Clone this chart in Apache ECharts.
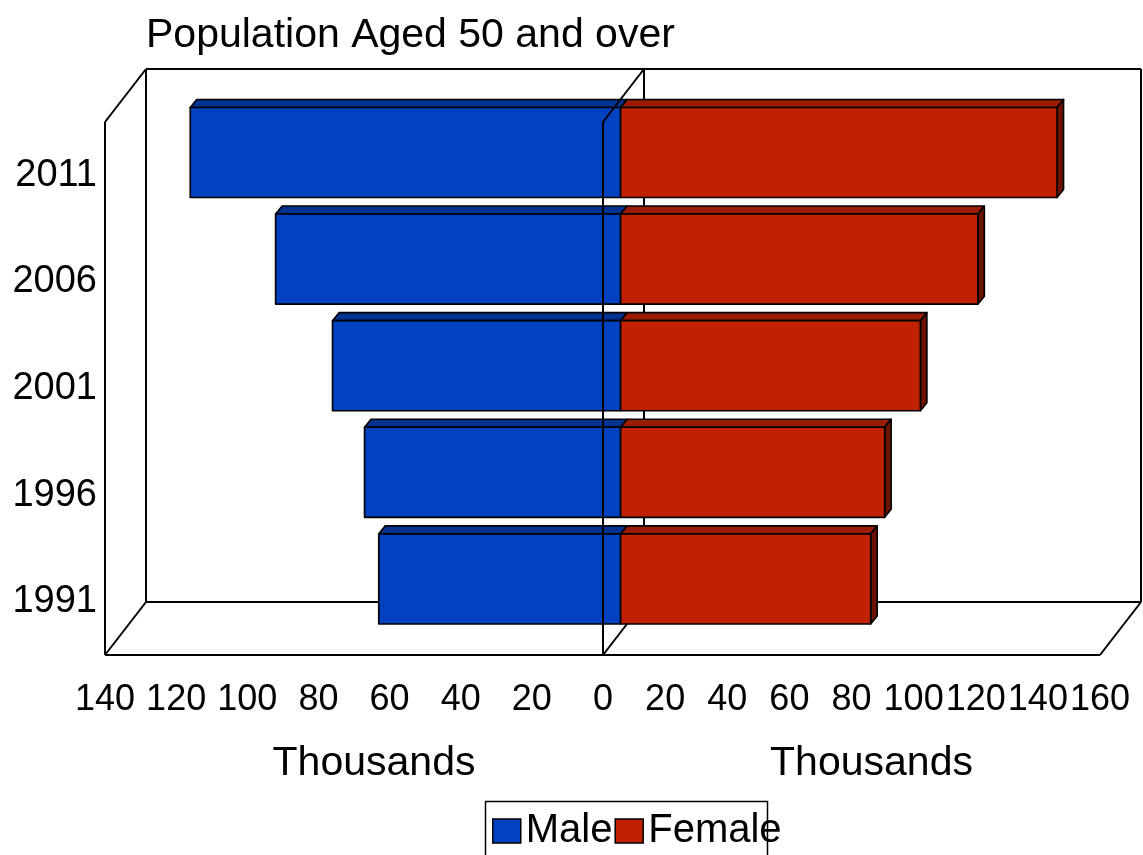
<!DOCTYPE html>
<html>
<head>
<meta charset="utf-8">
<script src="https://cdn.jsdelivr.net/npm/echarts@6/dist/echarts.min.js"></script>
<style>
  html, body { margin: 0; padding: 0; background: #fff; }
  #chart { width: 1143px; height: 855px; }
</style>
</head>
<body>
<div id="chart"></div>
<script>
// Census years, bottom to top
const categories = ['1991', '1996', '2001', '2006', '2011'];
// Population aged 50 and over, thousands
const maleValues = [68, 72, 81, 97, 121];
const femaleValues = [80.5, 85, 96.5, 115, 140.5];
// Axis ranges (thousands)
const maleAxisMax = 140;
const femaleAxisMax = 160;
const tickStep = 20;

const FONT = "'Liberation Sans', Arial, sans-serif";

// Oblique projection of the 3D box: offset from front plane to back plane
const DX = 41, DY = -53;
// Bars sit part-way into the box, with a small thickness of their own
const BAR_DEPTH = 0.43;
const BAR_TX = 6.5, BAR_TY = -8;
const BAR_FILL = 0.845;

const COLORS = {
  male:   { front: '#0041C0', top: '#003391', side: '#002a78' },
  female: { front: '#C02100', top: '#9A1B00', side: '#6E1200' }
};

function barRenderer(kind) {
  const c = COLORS[kind];
  return function (params, api) {
    const val = api.value(0);
    const cat = api.value(1);
    const pz = api.coord([0, cat]);
    const pv = api.coord([val, cat]);
    const h = api.size([0, 1])[1] * BAR_FILL;
    const ox = DX * BAR_DEPTH, oy = DY * BAR_DEPTH;
    const xl = Math.min(pz[0], pv[0]) + ox;
    const xr = Math.max(pz[0], pv[0]) + ox;
    const yt = pz[1] + oy - h / 2;
    const yb = yt + h;
    const stroke = { stroke: '#000', lineWidth: 1.6, lineJoin: 'round' };
    const children = [
      {
        type: 'polygon',
        shape: { points: [[xl, yt], [xr, yt], [xr + BAR_TX, yt + BAR_TY], [xl + BAR_TX, yt + BAR_TY]] },
        style: Object.assign({ fill: c.top }, stroke)
      }
    ];
    if (kind === 'female') {
      children.push({
        type: 'polygon',
        shape: { points: [[xr, yt], [xr + BAR_TX, yt + BAR_TY], [xr + BAR_TX, yb + BAR_TY], [xr, yb]] },
        style: Object.assign({ fill: c.side }, stroke)
      });
    }
    children.push({
      type: 'rect',
      shape: { x: xl, y: yt, width: xr - xl, height: h },
      style: Object.assign({ fill: c.front }, stroke)
    });
    return { type: 'group', children: children };
  };
}

function line(a, b) {
  return {
    type: 'line',
    shape: { x1: a[0], y1: a[1], x2: b[0], y2: b[1] },
    style: { stroke: '#000', lineWidth: 2 }
  };
}

// Walls and floor behind the bars, left half
function leftFrame(params) {
  const cs = params.coordSys;
  const x0 = cs.x, x1 = cs.x + cs.width, y0 = cs.y, y1 = cs.y + cs.height;
  return {
    type: 'group',
    children: [
      line([x0, y0], [x0, y1]),
      line([x0, y0], [x0 + DX, y0 + DY]),
      line([x0, y1], [x0 + DX, y1 + DY]),
      line([x0 + DX, y0 + DY], [x0 + DX, y1 + DY]),
      line([x0 + DX, y0 + DY], [x1 + DX, y0 + DY]),
      line([x0 + DX, y1 + DY], [x1 + DX, y1 + DY]),
      line([x0, y1], [x1, y1]),
      line([x1, y1], [x1 + DX, y1 + DY]),
      line([x1 + DX, y0 + DY], [x1 + DX, y1 + DY])
    ]
  };
}

// Walls and floor behind the bars, right half
function rightFrame(params) {
  const cs = params.coordSys;
  const x0 = cs.x, x1 = cs.x + cs.width, y0 = cs.y, y1 = cs.y + cs.height;
  return {
    type: 'group',
    children: [
      line([x0 + DX, y0 + DY], [x1 + DX, y0 + DY]),
      line([x0 + DX, y1 + DY], [x1 + DX, y1 + DY]),
      line([x0, y1], [x1, y1]),
      line([x1, y1], [x1 + DX, y1 + DY]),
      line([x1 + DX, y0 + DY], [x1 + DX, y1 + DY])
    ]
  };
}

// Central divider edges that sit in front of the bars
function centreFront(params) {
  const cs = params.coordSys;
  const x1 = cs.x + cs.width, y0 = cs.y, y1 = cs.y + cs.height;
  return {
    type: 'group',
    children: [
      line([x1, y0], [x1, y1]),
      line([x1, y0], [x1 + DX, y0 + DY])
    ]
  };
}

const valueAxisCommon = {
  type: 'value',
  min: 0,
  interval: tickStep,
  axisLine: { show: false },
  axisTick: { show: false },
  splitLine: { show: false },
  axisLabel: {
    color: '#000', fontSize: 36, fontFamily: FONT, margin: 27,
    showMinLabel: true, showMaxLabel: true, hideOverlap: false
  },
  name: 'Thousands',
  nameLocation: 'middle',
  nameGap: 88,
  nameTextStyle: { color: '#000', fontSize: 41, fontFamily: FONT, padding: [0, 0, 0, 40] }
};

const chart = echarts.init(document.getElementById('chart'), null, { renderer: 'canvas' });

chart.setOption({
  backgroundColor: '#fff',
  animation: false,
  title: {
    text: 'Population Aged 50 and over',
    left: 146,
    top: 15,
    padding: 0,
    textStyle: { color: '#000', fontSize: 41, fontWeight: 'normal', fontFamily: FONT }
  },
  legend: {
    data: [
      { name: 'Male', itemStyle: { color: COLORS.male.front, borderColor: '#000', borderWidth: 1.5 } },
      { name: 'Female', itemStyle: { color: COLORS.female.front, borderColor: '#000', borderWidth: 1.5 } }
    ],
    left: 492,
    top: 811,
    padding: 0,
    icon: 'rect',
    itemWidth: 28,
    itemHeight: 24,
    itemGap: 2,
    textStyle: { color: '#000', fontSize: 40, fontFamily: FONT },
    selectedMode: false
  },
  graphic: [
    {
      type: 'rect',
      left: 483,
      top: 799,
      shape: { width: 282, height: 80 },
      style: { fill: 'none', stroke: '#000', lineWidth: 1.5 },
      z: 0
    }
  ],
  grid: [
    { left: 105, top: 122, width: 498, bottom: 200 },
    { left: 603, top: 122, width: 497, bottom: 200 }
  ],
  xAxis: [
    Object.assign({}, valueAxisCommon, { gridIndex: 0, max: maleAxisMax, inverse: true }),
    Object.assign({}, valueAxisCommon, {
      gridIndex: 1, max: femaleAxisMax,
      // the shared zero is already labelled by the left axis
      axisLabel: Object.assign({}, valueAxisCommon.axisLabel, {
        formatter: function (v) { return v === 0 ? '' : String(v); }
      })
    })
  ],
  yAxis: [
    {
      type: 'category', gridIndex: 0, data: categories,
      axisLine: { show: false }, axisTick: { show: false },
      axisLabel: { color: '#000', fontSize: 38, fontFamily: FONT, margin: 8, padding: [16, 0, 0, 0] }
    },
    {
      type: 'category', gridIndex: 1, data: categories,
      axisLine: { show: false }, axisTick: { show: false },
      axisLabel: { show: false }
    }
  ],
  series: [
    {
      type: 'custom', name: 'frameLeft', xAxisIndex: 0, yAxisIndex: 0,
      renderItem: leftFrame, data: [[0, categories[0]]], silent: true, clip: false, z: 1
    },
    {
      type: 'custom', name: 'frameRight', xAxisIndex: 1, yAxisIndex: 1,
      renderItem: rightFrame, data: [[0, categories[0]]], silent: true, clip: false, z: 1
    },
    {
      type: 'custom', name: 'Male', xAxisIndex: 0, yAxisIndex: 0,
      renderItem: barRenderer('male'),
      encode: { x: 0, y: 1 },
      itemStyle: { color: COLORS.male.front },
      data: maleValues.map((v, i) => [v, categories[i]]),
      clip: false, z: 2
    },
    {
      type: 'custom', name: 'Female', xAxisIndex: 1, yAxisIndex: 1,
      renderItem: barRenderer('female'),
      encode: { x: 0, y: 1 },
      itemStyle: { color: COLORS.female.front },
      data: femaleValues.map((v, i) => [v, categories[i]]),
      clip: false, z: 3
    },
    {
      type: 'custom', name: 'centreFront', xAxisIndex: 0, yAxisIndex: 0,
      renderItem: centreFront, data: [[0, categories[0]]], silent: true, clip: false, z: 4
    }
  ]
});
</script>
</body>
</html>
